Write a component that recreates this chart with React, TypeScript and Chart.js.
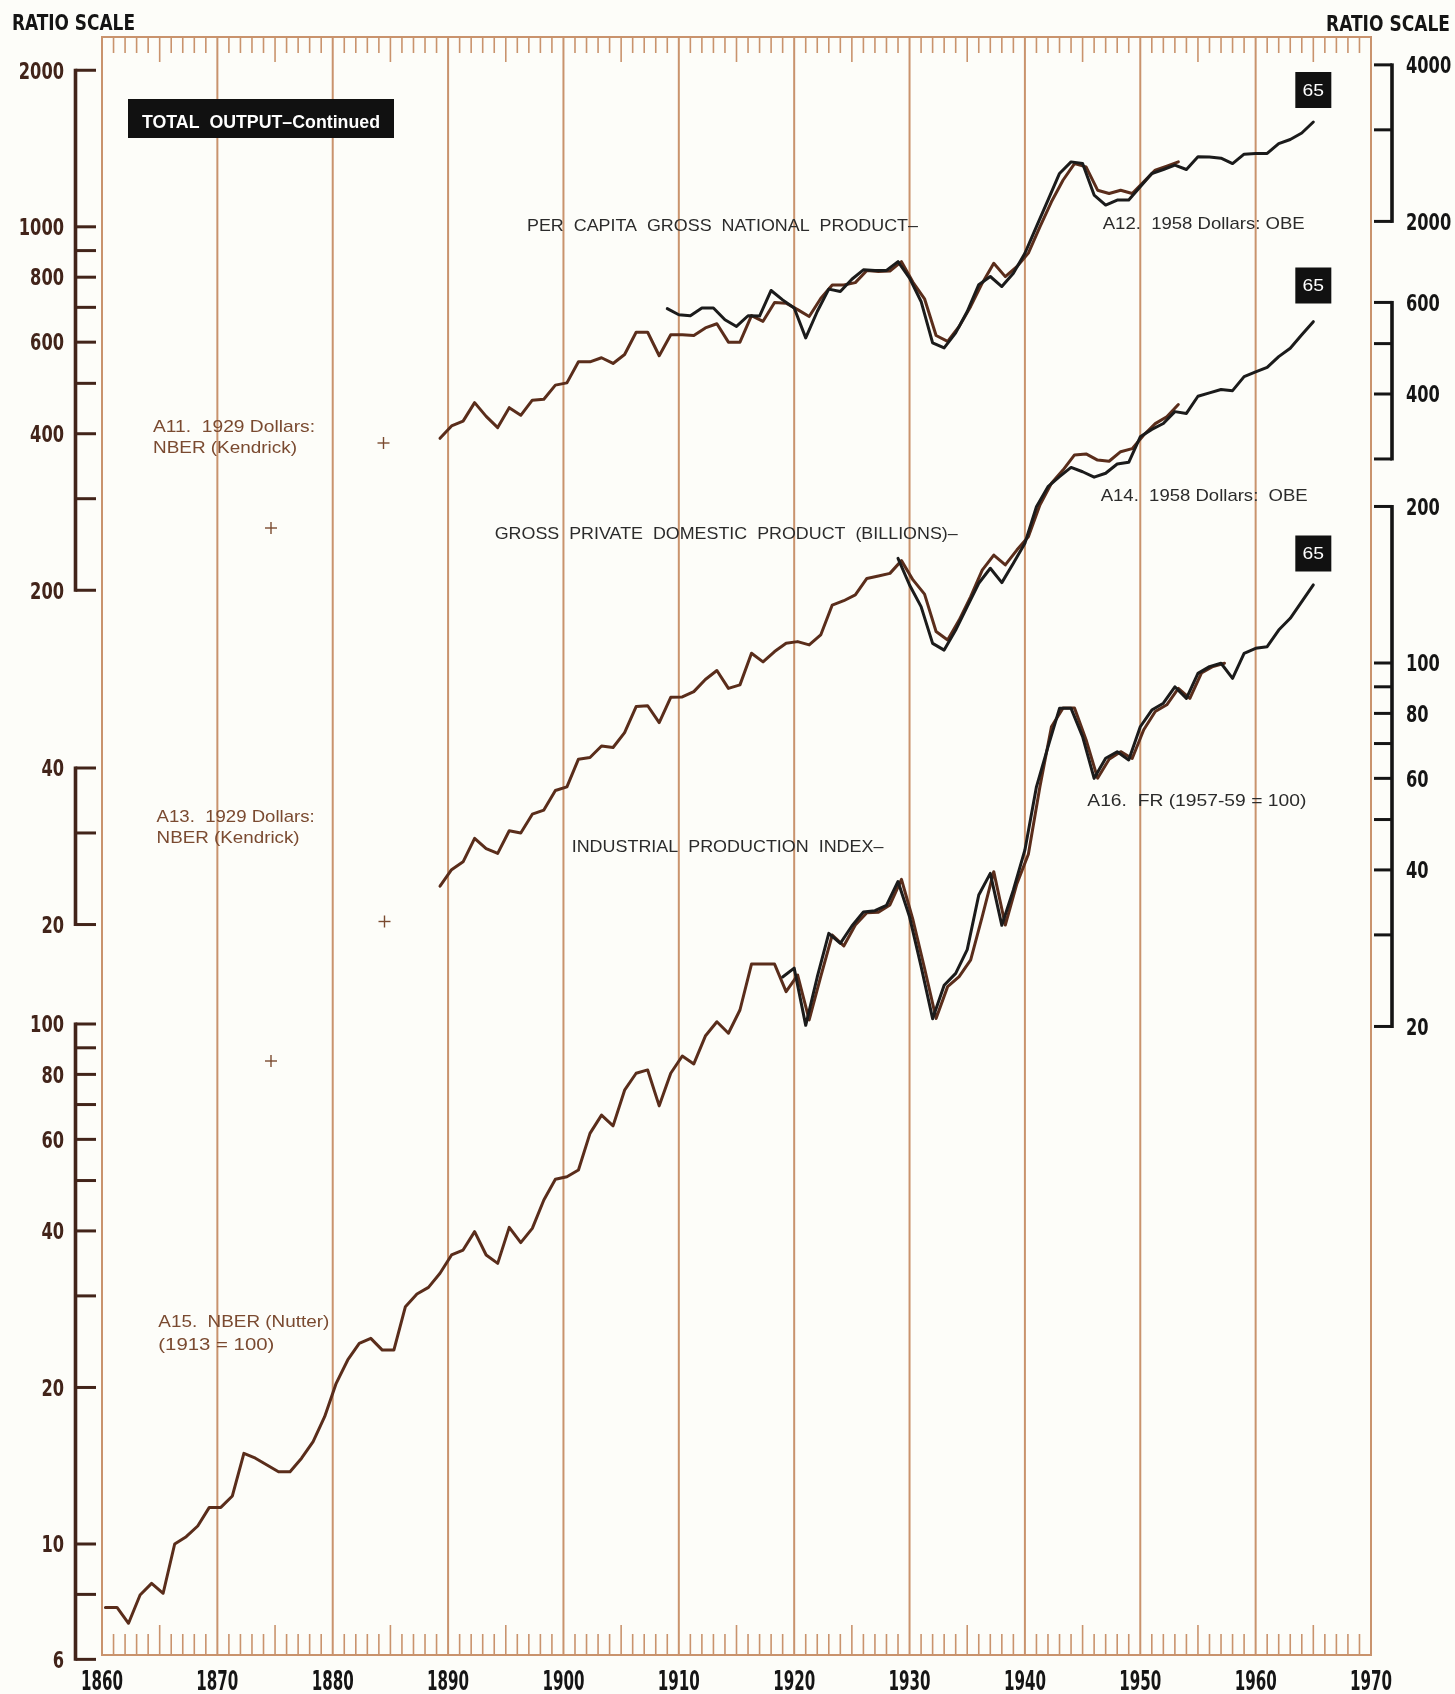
import React, { useEffect, useRef } from "react";
import { Chart, registerables } from "chart.js";

Chart.register(...registerables);

// ---------------- DATA ----------------
const YEAR_MIN = 1860;
const YEAR_MAX = 1970;
const DECADE_LABELS = ["1860", "1870", "1880", "1890", "1900", "1910", "1920", "1930", "1940", "1950", "1960", "1970"];

// A11 Per capita GNP, 1929 dollars, NBER (Kendrick) - left top scale
const A11_START = 1889;
const A11_VALUES = [
  392, 414, 423, 459, 432, 411, 449, 434, 464, 466,
  496, 501, 550, 550, 560, 546, 568, 627, 627, 565,
  620, 620, 618, 639, 651, 600, 600, 675, 658, 715,
  713, 693, 672, 728, 773, 773, 781, 824, 820, 822,
  857, 782, 727, 618, 602, 643, 703, 779, 851, 802,
  838, 890, 1000, 1117, 1229, 1323, 1304, 1176, 1159, 1176,
  1159, 1220, 1285, 1308, 1333,
];

// A12 Per capita GNP, 1958 dollars, OBE - right top scale
const A12_START = 1909;
const A12_VALUES = [
  1359, 1323, 1317, 1363, 1363, 1294, 1256, 1317, 1315, 1473,
  1413, 1363, 1194, 1342, 1482, 1466, 1548, 1614, 1610, 1610,
  1674, 1556, 1403, 1168, 1142, 1221, 1342, 1511, 1567, 1499,
  1590, 1737, 1954, 2198, 2473, 2603, 2584, 2247, 2150, 2198,
  2198, 2332, 2473, 2517, 2566, 2517, 2662, 2660, 2646, 2584,
  2694, 2702, 2702, 2823, 2874, 2958, 3106,
];

// A13 Gross private domestic product (billions), 1929 dollars, NBER (Kendrick) - left middle scale
const A13_START = 1889;
const A13_VALUES = [
  23.7, 25.5, 26.4, 29.3, 28.0, 27.4, 30.3, 30.0, 32.6, 33.2,
  36.2, 36.8, 41.6, 41.9, 44.1, 43.8, 46.8, 52.5, 52.7, 48.9,
  54.7, 54.8, 56.1, 59.2, 61.6, 56.9, 57.8, 66.5, 64.0, 67.0,
  69.5, 70.0, 69.0, 72.1, 82.3, 83.9, 86.1, 92.6, 93.6, 94.7,
  100.2, 92.0, 86.4, 73.2, 70.5, 77.0, 85.4, 96.1, 102.7, 98.3,
  105.0, 111.4, 128.2, 141.1, 149.6, 160.0, 160.7, 156.4, 155.6, 162.3,
  164.5, 174.8, 183.8, 189.5, 200.0,
];

// A14 Gross private domestic product (billions), 1958 dollars, OBE - right middle scale
const A14_START = 1929;
const A14_VALUES = [
  193.2, 171.7, 156.0, 132.6, 128.7, 140.6, 156.0, 173.0, 184.9, 173.5,
  189.1, 206.5, 242.8, 265.4, 277.4, 289.0, 283.5, 276.8, 281.6, 293.4,
  295.6, 331.0, 342.0, 351.0, 370.0, 367.0, 396.0, 402.0, 408.0, 406.0,
  432.0, 441.0, 450.0, 472.0, 490.0, 520.0, 551.0,
];

// A15 Industrial production index, NBER (Nutter) 1913=100 - left bottom scale
const A15_START = 1860;
const A15_VALUES = [
  7.55, 7.55, 7.04, 7.98, 8.4, 8.04, 10.0, 10.33, 10.83, 11.76,
  11.76, 12.37, 14.94, 14.62, 14.19, 13.77, 13.77, 14.62, 15.73, 17.57,
  20.37, 22.59, 24.32, 24.86, 23.6, 23.6, 28.6, 30.25, 31.16, 33.16,
  35.96, 36.76, 39.87, 35.96, 34.65, 40.64, 37.98, 40.46, 45.86, 50.28,
  50.86, 52.4, 61.6, 66.8, 63.7, 74.6, 80.4, 81.6, 69.6, 80.4,
  86.8, 83.8, 94.8, 101, 96.0, 106.4, 130.4, 130.4, 130.4, 115.4,
  124.2, 101.8, 123.3, 148.3, 141.3, 155, 163.7, 164, 169.4, 189.8,
  158.5, 128, 102.5, 118, 123.3, 132.8, 160.8, 196.3, 155, 186,
  212, 286, 373, 405, 405, 352, 297, 323, 334, 324,
  368, 399, 411, 442, 423, 473, 487, 494,
];

// A16 Industrial production index, FR 1957-59=100 - right bottom scale
const A16_START = 1919;
const A16_VALUES = [
  24.9, 25.9, 20.1, 24.9, 30.2, 28.9, 31.2, 33.2, 33.4, 34.2,
  38.0, 32.5, 26.1, 20.7, 24.0, 25.3, 28.1, 35.8, 39.4, 31.3,
  36.6, 43.7, 57.8, 69.0, 81.8, 81.8, 72.2, 60.0, 65.6, 67.5,
  65.1, 75.4, 81.2, 83.7, 90.0, 85.5, 95.5, 98.4, 99.9, 93.4,
  104.4, 106.7, 107.5, 115.7, 121.9, 131.2, 141.3,
];

// axis ticks and labels
const LEFT_TOP_TICKS = [2000, 1000, 900, 800, 700, 600, 500, 400, 300, 200];
const LEFT_TOP_LABELS = [2000, 1000, 800, 600, 400, 200];
const LEFT_MID_TICKS = [40, 30, 20];
const LEFT_MID_LABELS = [40, 20];
const LEFT_BOT_TICKS = [100, 90, 80, 70, 60, 50, 40, 30, 20, 10, 8, 6];
const LEFT_BOT_LABELS = [100, 80, 60, 40, 20, 10, 6];
const RIGHT_TOP_TICKS = [4000, 3000, 2000];
const RIGHT_TOP_LABELS = [4000, 2000];
const RIGHT_MID_TICKS = [600, 500, 400, 300];
const RIGHT_MID_LABELS = [600, 400];
const RIGHT_BOT_TICKS = [200, 100, 90, 80, 70, 60, 50, 40, 30, 20];
const RIGHT_BOT_LABELS = [200, 100, 80, 60, 40, 20];

// ---------------- LAYOUT / STYLE ----------------
const W = 1455;
const H = 1694;
const AREA = { left: 102, right: 1371, top: 37, bottom: 1655 };
const PX_PER_DECADE = 520;
const NBER_X_SHIFT = 0.3; // NBER series drawn slightly after the year mark

const BG = "#fdfdf9";
const GRID = "#c9936d";
const BROWN_LINE = "#5a2d1b";
const BLACK_LINE = "#1b1b1b";
const AXIS_BROWN = "#42241a";
const AXIS_BLACK = "#151515";
const TEXT_BROWN = "#7a4a30";
const TEXT_BLACK = "#2b2b2b";
const NARROW = '"Liberation Sans Narrow", "DejaVu Sans Condensed", "Arial Narrow", "Liberation Sans", Arial, sans-serif';
const SANS = '"Liberation Sans", Arial, Helvetica, sans-serif';

function logBounds(value: number, px: number) {
  const lv = Math.log10(value);
  return {
    min: Math.pow(10, lv - (AREA.bottom - px) / PX_PER_DECADE),
    max: Math.pow(10, lv + (px - AREA.top) / PX_PER_DECADE),
  };
}

const AXES = [
  { id: "yA11", side: "left", anchor: [1000, 226.8], ticks: LEFT_TOP_TICKS, labels: LEFT_TOP_LABELS },
  { id: "yA13", side: "left", anchor: [40, 768], ticks: LEFT_MID_TICKS, labels: LEFT_MID_LABELS },
  { id: "yA15", side: "left", anchor: [100, 1024], ticks: LEFT_BOT_TICKS, labels: LEFT_BOT_LABELS },
  { id: "yA12", side: "right", anchor: [2000, 221.4], ticks: RIGHT_TOP_TICKS, labels: RIGHT_TOP_LABELS },
  { id: "yA14", side: "right", anchor: [400, 394], ticks: RIGHT_MID_TICKS, labels: RIGHT_MID_LABELS },
  { id: "yA16", side: "right", anchor: [100, 663], ticks: RIGHT_BOT_TICKS, labels: RIGHT_BOT_LABELS },
];

const TEXTS = [
  { t: "PER  CAPITA  GROSS  NATIONAL  PRODUCT\u2013", x: 527, y: 225, w: 391, size: 17, color: TEXT_BLACK },
  { t: "A12.  1958 Dollars: OBE", x: 1102.7, y: 223, w: 202, size: 17, color: TEXT_BLACK },
  { t: "A11.  1929 Dollars:", x: 153, y: 426, w: 162, size: 17, color: TEXT_BROWN },
  { t: "NBER (Kendrick)", x: 153, y: 447, w: 144, size: 17, color: TEXT_BROWN },
  { t: "GROSS  PRIVATE  DOMESTIC  PRODUCT  (BILLIONS)\u2013", x: 494.7, y: 533, w: 463, size: 17, color: TEXT_BLACK },
  { t: "A14.  1958 Dollars:  OBE", x: 1100.7, y: 495, w: 207, size: 17, color: TEXT_BLACK },
  { t: "A13.  1929 Dollars:", x: 156.6, y: 816, w: 158, size: 17, color: TEXT_BROWN },
  { t: "NBER (Kendrick)", x: 156.6, y: 837, w: 143, size: 17, color: TEXT_BROWN },
  { t: "INDUSTRIAL  PRODUCTION  INDEX\u2013", x: 571.7, y: 845.5, w: 311.7, size: 17, color: TEXT_BLACK },
  { t: "A16.  FR (1957-59 = 100)", x: 1087.3, y: 800, w: 219, size: 17, color: TEXT_BLACK },
  { t: "A15.  NBER (Nutter)", x: 158.3, y: 1320.5, w: 171, size: 17, color: TEXT_BROWN },
  { t: "(1913 = 100)", x: 158.3, y: 1344, w: 116, size: 17, color: TEXT_BROWN },
];

const PLUS_MARKS = [
  [383.5, 443],
  [271, 528],
  [384.5, 921.5],
  [271, 1061],
];

const END_BOX_TOPS = [72, 267.5, 535.5];

function drawText(
  ctx: CanvasRenderingContext2D,
  text: string,
  x: number,
  cy: number,
  size: number,
  weight: string,
  family: string,
  color: string,
  align: string,
  targetW?: number
) {
  ctx.save();
  ctx.font = `${weight} ${size}px ${family}`;
  ctx.fillStyle = color;
  ctx.textBaseline = "alphabetic";
  ctx.textAlign = "left";
  const w = ctx.measureText(text).width;
  const sx = targetW ? targetW / w : 1;
  const dw = w * sx;
  const left = align === "left" ? x : align === "right" ? x - dw : x - dw / 2;
  ctx.translate(left, cy + size * 0.36);
  ctx.scale(sx, 1);
  ctx.fillText(text, 0, 0);
  ctx.restore();
}

function seg(ctx: CanvasRenderingContext2D, x1: number, y1: number, x2: number, y2: number) {
  ctx.beginPath();
  ctx.moveTo(x1, y1);
  ctx.lineTo(x2, y2);
  ctx.stroke();
}

const layoutPlugin = {
  id: "ratioLayout",
  beforeDraw(chart: any) {
    const ctx: CanvasRenderingContext2D = chart.ctx;
    const { left, right, top, bottom } = chart.chartArea;
    const xs = chart.scales.x;
    ctx.save();
    ctx.fillStyle = BG;
    ctx.fillRect(0, 0, chart.width, chart.height);
    ctx.strokeStyle = GRID;
    ctx.lineCap = "butt";
    ctx.lineWidth = 2;
    for (const d of DECADE_LABELS) {
      const x = xs.getPixelForValue(Number(d));
      seg(ctx, x, top - 1, x, bottom + 1);
    }
    seg(ctx, left - 1, top, right + 1, top);
    seg(ctx, left - 1, bottom, right + 1, bottom);
    ctx.lineWidth = 1.6;
    for (let yr = YEAR_MIN + 1; yr < YEAR_MAX; yr++) {
      if (yr % 10 === 0) continue;
      const big = yr % 5 === 0;
      const x = xs.getPixelForValue(yr);
      seg(ctx, x, top, x, top + (big ? 25 : 16));
      seg(ctx, x, bottom, x, bottom - (big ? 30 : 21));
    }
    ctx.restore();
  },
  afterDraw(chart: any) {
    const ctx: CanvasRenderingContext2D = chart.ctx;
    const xs = chart.scales.x;
    ctx.save();
    // axis brackets
    for (const ax of AXES) {
      const s = chart.scales[ax.id];
      const isLeft = ax.side === "left";
      const color = isLeft ? AXIS_BROWN : AXIS_BLACK;
      const ps = ax.ticks.map((v) => s.getPixelForValue(v));
      const pTop = Math.min(...ps);
      const pBot = Math.max(...ps);
      const spineX = isLeft ? 75.5 : 1392;
      const tickX = isLeft ? 96 : 1374;
      ctx.strokeStyle = color;
      ctx.lineCap = "butt";
      ctx.lineWidth = 3.6;
      seg(ctx, spineX, pTop - 1.5, spineX, pBot + 1.5);
      ctx.lineWidth = 3;
      for (const p of ps) seg(ctx, spineX, p, tickX, p);
      for (const v of ax.labels) {
        const p = s.getPixelForValue(v);
        const str = String(v);
        drawText(ctx, str, isLeft ? 64 : 1406, p, 23, "bold", NARROW, color, isLeft ? "right" : "left", str.length * 11.3);
      }
    }
    // header texts
    drawText(ctx, "RATIO SCALE", 12, 22.5, 21, "bold", NARROW, AXIS_BLACK, "left", 123);
    drawText(ctx, "RATIO SCALE", 1450, 23, 21, "bold", NARROW, AXIS_BLACK, "right", 124);
    // year labels
    for (const l of DECADE_LABELS) {
      drawText(ctx, l, xs.getPixelForValue(Number(l)), 1681, 26, "bold", NARROW, AXIS_BLACK, "center", 42);
    }
    // title box
    ctx.fillStyle = "#111111";
    ctx.fillRect(128, 99, 266, 39);
    drawText(ctx, "TOTAL  OUTPUT\u2013Continued", 142, 121, 19, "bold", SANS, "#ffffff", "left", 238);
    // annotations
    for (const t of TEXTS) drawText(ctx, t.t, t.x, t.y, t.size, "normal", SANS, t.color, "left", t.w);
    // plus marks
    ctx.strokeStyle = TEXT_BROWN;
    ctx.lineWidth = 1.4;
    for (const [px, py] of PLUS_MARKS) {
      seg(ctx, px - 6, py, px + 6, py);
      seg(ctx, px, py - 6, px, py + 6);
    }
    // end-year boxes
    const cx = xs.getPixelForValue(1965);
    for (const top of END_BOX_TOPS) {
      ctx.fillStyle = "#111111";
      ctx.fillRect(cx - 18, top, 36, 36);
      drawText(ctx, "65", cx, top + 18, 16, "normal", SANS, "#ffffff", "center", 21.5);
    }
    ctx.restore();
  },
};

function toPoints(start: number, values: number[], shift: number) {
  return values.map((v, i) => ({ x: start + i + shift, y: v }));
}

function lineDs(label: string, start: number, values: number[], axis: string, brown: boolean) {
  return {
    label,
    data: toPoints(start, values, brown ? NBER_X_SHIFT : 0),
    yAxisID: axis,
    xAxisID: "x",
    borderColor: brown ? BROWN_LINE : BLACK_LINE,
    backgroundColor: brown ? BROWN_LINE : BLACK_LINE,
    borderWidth: 3,
    pointRadius: 0,
    tension: 0,
    fill: false,
    borderJoinStyle: "round",
    borderCapStyle: "round",
  };
}

export default function App() {
  const ref = useRef<HTMLCanvasElement | null>(null);
  useEffect(() => {
    if (!ref.current) return;
    const scales: any = {
      x: { type: "linear", min: YEAR_MIN, max: YEAR_MAX, display: false, bounds: "data" },
    };
    for (const ax of AXES) {
      scales[ax.id] = {
        type: "logarithmic",
        display: false,
        bounds: "data",
        position: ax.side,
        ...logBounds(ax.anchor[0], ax.anchor[1]),
      };
    }
    const chart = new Chart(ref.current, {
      type: "line",
      data: {
        datasets: [
          lineDs("A12. 1958 Dollars: OBE", A12_START, A12_VALUES, "yA12", false),
          lineDs("A14. 1958 Dollars: OBE", A14_START, A14_VALUES, "yA14", false),
          lineDs("A16. FR (1957-59 = 100)", A16_START, A16_VALUES, "yA16", false),
          lineDs("A11. 1929 Dollars: NBER (Kendrick)", A11_START, A11_VALUES, "yA11", true),
          lineDs("A13. 1929 Dollars: NBER (Kendrick)", A13_START, A13_VALUES, "yA13", true),
          lineDs("A15. NBER (Nutter) (1913 = 100)", A15_START, A15_VALUES, "yA15", true),
        ] as any,
      },
      options: {
        animation: false,
        responsive: false,
        events: [],
        layout: {
          padding: { left: AREA.left, right: W - AREA.right, top: AREA.top, bottom: H - AREA.bottom },
        },
        plugins: { legend: { display: false }, tooltip: { enabled: false } },
        scales,
      } as any,
      plugins: [layoutPlugin as any],
    });
    return () => chart.destroy();
  }, []);
  return (
    <div style={{ position: "absolute", left: 0, top: 0, width: W, height: H, background: BG }}>
      <canvas ref={ref} width={W} height={H} style={{ display: "block" }} />
    </div>
  );
}
